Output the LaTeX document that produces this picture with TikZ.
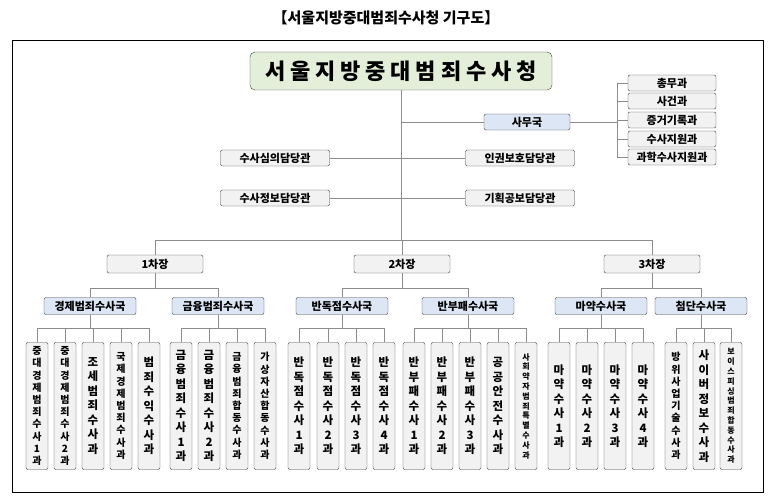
\documentclass[tikz,border=0pt]{standalone}
\usepackage{fontspec}
\setmainfont{Noto Sans CJK KR}
\usepackage{tikz}
\definecolor{headgreen}{HTML}{E3EFD9}
\definecolor{burblue}{HTML}{DCE6F4}
\tikzset{
    box/.style = {draw=black!75, rounded corners=2pt, fill=black!5, inner sep=0pt, align=center, font=\fontsize{11}{13}\selectfont\bfseries},
    head/.style = {box, fill=headgreen, rounded corners=5pt, minimum width=302pt, minimum height=38pt, font=\fontsize{22}{26}\selectfont\bfseries\addfontfeature{LetterSpace=22}},
    staff/.style = {box, minimum width=109pt, minimum height=16pt},
    unit/.style = {box, minimum width=88pt, minimum height=16pt},
    chief/.style = {box, minimum width=96pt, minimum height=18pt},
    bureau/.style = {box, fill=burblue, minimum width=92pt, minimum height=17pt},
    col/.style = {box, minimum width=22pt, minimum height=127pt, font=\fontsize{11.5}{14.5}\selectfont\bfseries},
    colm/.style = {col, font=\fontsize{10}{12.2}\selectfont\bfseries},
    cols/.style = {col, font=\fontsize{8}{9.8}\selectfont\bfseries},
    line/.style = {draw=black!45, thin}
}
\begin{document}
\begin{tikzpicture}[x=1pt,y=-1pt]
    \useasboundingbox (0,0) rectangle (773,500);
    \node [font=\fontsize{15}{17}\selectfont\bfseries] (title) at (386,18) {【서울지방중대범죄수사청 기구도】};
    \draw [black] (12,40) rectangle (763,492);
    % top
    \node [head] (main) at (401,71) {서울지방중대범죄수사청};
    \node [unit, fill=burblue, minimum width=86pt] (samu) at (527,122) {사무국};
    \node [unit] (r1) at (672,83) {총무과};
    \node [unit] (r2) at (672,101) {사건과};
    \node [unit] (r3) at (672,120) {증거기록과};
    \node [unit] (r4) at (672,139) {수사지원과};
    \node [unit] (r5) at (672,157) {과학수사지원과};
    \node [staff] (s1) at (275,158) {수사심의담당관};
    \node [staff] (s2) at (520,158) {인권보호담당관};
    \node [staff] (s3) at (275,198) {수사정보담당관};
    \node [staff] (s4) at (520,198) {기획공보담당관};
    \draw [line] (main.south) -- (main.south |- samu.west) -- (samu.west);
    \draw [line] (samu.east) -- ++(48,0);
    \draw [line] (r1.west) -- ++(-11,0) |- (r5.west);
    \foreach \r in {r2,r3,r4}
        \draw [line] (\r.west) -- ++(-11,0);
    \draw [line] (s1.east) -- (s2.west);
    \draw [line] (s3.east) -- (s4.west);
    % deputies
    \node [chief] (cj1) at (155,264) {1차장};
    \node [chief] (cj2) at (402,264) {2차장};
    \node [chief] (cj3) at (652,264) {3차장};
    \foreach \c in {cj1,cj2,cj3}
        \draw [line] (main.south) -- ++(0,150) -| (\c.north);
    % bureaus
    \foreach \b/\x/\c/\t in {bA/90/cj1/경제범죄수사국, bB/218/cj1/금융범죄수사국,
                             bC/342/cj2/반독점수사국, bD/468/cj2/반부패수사국,
                             bE/601/cj3/마약수사국, bF/701/cj3/첨단수사국}
    {
        \node [bureau] (\b) at (\x,306) {\t};
        \draw [line] (\c.south) -- ++(0,15) -| (\b.north);
    }
    % divisions
    \foreach \n/\x/\b/\s/\t in {
        a1/37/bA/colm/{중\\대\\경\\제\\범\\죄\\수\\사\\1\\과},
        a2/65/bA/colm/{중\\대\\경\\제\\범\\죄\\수\\사\\2\\과},
        a3/93/bA/col/{조\\세\\범\\죄\\수\\사\\과},
        a4/121/bA/colm/{국\\제\\경\\제\\범\\죄\\수\\사\\과},
        a5/149/bA/col/{범\\죄\\수\\익\\수\\사\\과},
        b1/181/bB/col/{금\\융\\범\\죄\\수\\사\\1\\과},
        b2/209/bB/col/{금\\융\\범\\죄\\수\\사\\2\\과},
        b3/237/bB/colm/{금\\융\\범\\죄\\합\\동\\수\\사\\과},
        b4/265/bB/colm/{가\\상\\자\\산\\합\\동\\수\\사\\과},
        c1/299/bC/col/{반\\독\\점\\수\\사\\1\\과},
        c2/328/bC/col/{반\\독\\점\\수\\사\\2\\과},
        c3/356/bC/col/{반\\독\\점\\수\\사\\3\\과},
        c4/384/bC/col/{반\\독\\점\\수\\사\\4\\과},
        d1/414/bD/col/{반\\부\\패\\수\\사\\1\\과},
        d2/442/bD/col/{반\\부\\패\\수\\사\\2\\과},
        d3/470/bD/col/{반\\부\\패\\수\\사\\3\\과},
        d4/498/bD/col/{공\\공\\안\\전\\수\\사\\과},
        d5/526/bD/cols/{사\\회\\약\\자\\범\\죄\\특\\별\\수\\사\\과},
        e1/559/bE/col/{마\\약\\수\\사\\1\\과},
        e2/587/bE/col/{마\\약\\수\\사\\2\\과},
        e3/615/bE/col/{마\\약\\수\\사\\3\\과},
        e4/643/bE/col/{마\\약\\수\\사\\4\\과},
        f1/676/bF/colm/{방\\위\\사\\업\\기\\술\\수\\사\\과},
        f2/704/bF/col/{사\\이\\버\\정\\보\\수\\사\\과},
        f3/731/bF/cols/{보\\이\\스\\피\\싱\\범\\죄\\합\\동\\수\\사\\과}}
    {
        \node [\s] (\n) at (\x,406) {\t};
        \draw [line] (\b.south) -- ++(0,13) -| (\n.north);
    }
\end{tikzpicture}
\end{document}
